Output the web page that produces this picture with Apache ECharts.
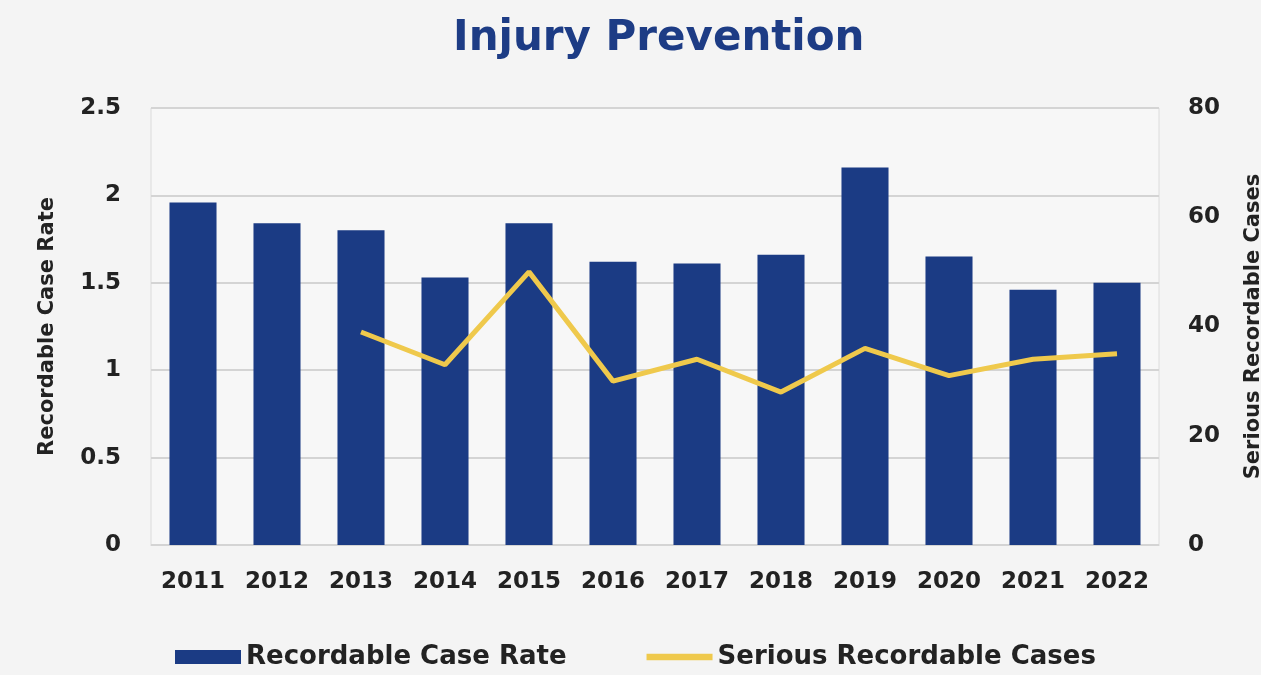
<!DOCTYPE html>
<html><head><meta charset="utf-8">
<script src="https://cdn.jsdelivr.net/npm/echarts@6/dist/echarts.min.js"></script>
<style>html,body{margin:0;padding:0;background:#f4f4f4;}#c{width:1261px;height:675px;}</style>
</head><body><div id="c"></div>
<script>
const categories = ['2011','2012','2013','2014','2015','2016','2017','2018','2019','2020','2021','2022'];
const recordableCaseRate = [1.96,1.84,1.80,1.53,1.84,1.62,1.61,1.66,2.16,1.65,1.46,1.50];
const seriousRecordableCases = [null,null,39,33,50,30,34,28,36,31,34,35];
const FONT = 'DejaVu Sans';
const chart = echarts.init(document.getElementById('c'));
chart.setOption({
  backgroundColor:'#f4f4f4',
  animation:false,
  title:{text:'Injury Prevention',left:448,top:13,textStyle:{fontFamily:FONT,fontSize:42,fontWeight:'bold',color:'#1d3c85'}},
  legend:{bottom:0,left:170,itemGap:80,itemWidth:66,itemHeight:14,itemTextGap:6,textStyle:{fontFamily:FONT,fontSize:26,fontWeight:'bold',color:'#222'},
    data:[{name:'Recordable Case Rate',icon:'rect'},{name:'Serious Recordable Cases',icon:'path://M0,0L10,0L10,1L0,1Z'}]},
  grid:{left:151,right:102,top:108,bottom:130,outerBoundsMode:'none',containLabel:false,show:true,borderColor:'#dcdcdc',borderWidth:1,backgroundColor:'#f7f7f7'},
  xAxis:{type:'category',data:categories,axisLine:{lineStyle:{color:'#d4d4d4'}},axisTick:{show:false},
    axisLabel:{fontFamily:FONT,fontSize:23,fontWeight:'bold',color:'#222',margin:26}},
  yAxis:[
    {type:'value',min:0,max:2.5,interval:0.5,name:'Recordable Case Rate',nameLocation:'middle',nameGap:93,
     nameTextStyle:{fontFamily:FONT,fontSize:21,fontWeight:'bold',color:'#222'},
     axisLabel:{fontFamily:FONT,fontSize:23,fontWeight:'bold',color:'#222',margin:30},
     axisLine:{show:false},axisTick:{show:false},splitLine:{lineStyle:{color:'#d4d4d4',width:2}}},
    {type:'value',min:0,max:80,interval:20,name:'Serious Recordable Cases',nameLocation:'middle',nameGap:84,
     nameTextStyle:{fontFamily:FONT,fontSize:21,fontWeight:'bold',color:'#222'},
     axisLabel:{fontFamily:FONT,fontSize:23,fontWeight:'bold',color:'#222',margin:29},
     axisLine:{show:false},axisTick:{show:false},splitLine:{show:false}}
  ],
  series:[
    {name:'Recordable Case Rate',type:'bar',data:recordableCaseRate,barWidth:'56%',itemStyle:{color:'#1b3b84'}},
    {name:'Serious Recordable Cases',type:'line',yAxisIndex:1,data:seriousRecordableCases,showSymbol:false,symbol:'none',
     lineStyle:{color:'#efc94c',width:5},itemStyle:{color:'#efc94c'}}
  ]
});
</script></body></html>
